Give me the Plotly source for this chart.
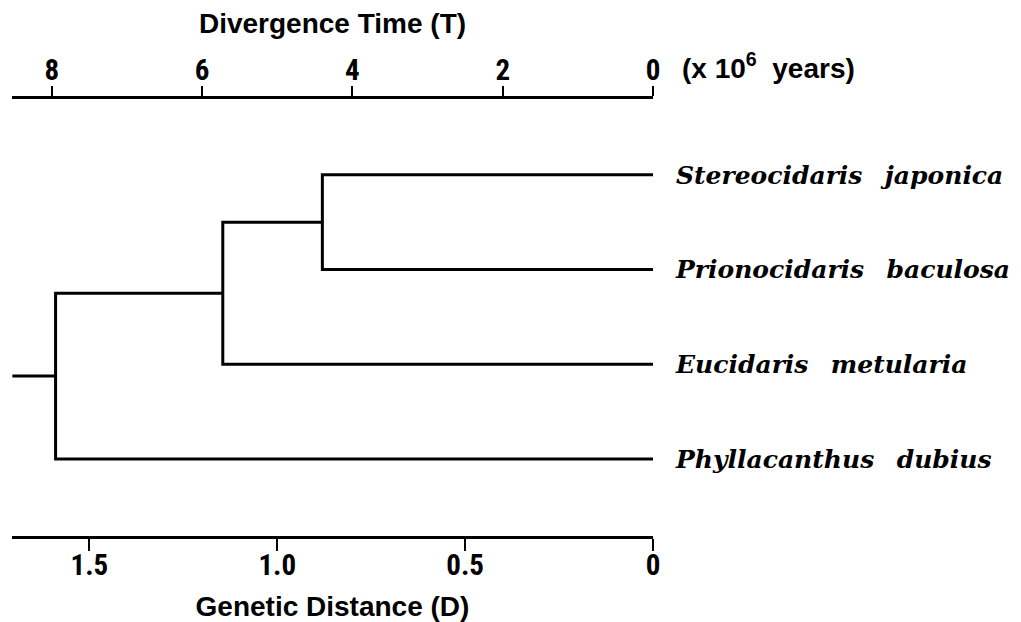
import plotly.graph_objects as go

# ---------------- data ----------------
species = ["Stereocidaris japonica", "Prionocidaris baculosa",
           "Eucidaris metularia", "Phyllacanthus dubius"]
leaf_pos = [4, 3, 2, 1]
# genetic distance (D) of each junction
d_stereo_priono = 0.88
d_plus_eucidaris = 1.145
d_root = 1.59
d_stub = 1.705          # left end of root stub
T_PER_D = 5.0           # divergence time (x 10^6 yr) per unit D

dist_ticks = [1.5, 1.0, 0.5, 0]
dist_labels = ["1.5", "1.0", "0.5", "0"]
time_ticks = [8, 6, 4, 2, 0]
time_labels = ["8", "6", "4", "2", "0"]

# ---------------- tree geometry ----------------
xs, ys = [], []


def join(a, b, h):
    xs.extend([a[0], h, h, b[0], None])
    ys.extend([a[1], a[1], b[1], b[1], None])
    return (h, (a[1] + b[1]) / 2)


leaves = [(0, p) for p in leaf_pos]
n = join(leaves[0], leaves[1], d_stereo_priono)
n = join(n, leaves[2], d_plus_eucidaris)
n = join(n, leaves[3], d_root)
xs.extend([n[0], d_stub, None])
ys.extend([n[1], n[1], None])

x_edge = 1.706

fig = go.Figure()
fig.add_trace(go.Scatter(x=xs, y=ys, mode="lines",
                         line=dict(color="black", width=3),
                         hoverinfo="skip", showlegend=False))
fig.add_trace(go.Scatter(x=[], y=[], xaxis="x2", showlegend=False))

num_font = dict(family="Roboto Condensed, Liberation Sans Narrow, Roboto, sans-serif",
                size=29, color="black", weight="bold")
title_font = dict(family="Liberation Sans, Arial, sans-serif", size=28,
                  color="black", weight="bold")

fig.update_layout(
    width=1021, height=622,
    margin=dict(l=4, r=376, t=91, b=94, pad=0),
    paper_bgcolor="white", plot_bgcolor="white",
    xaxis=dict(range=[x_edge, 0], showgrid=False, zeroline=False,
               showline=True, linewidth=3, linecolor="black",
               ticks="outside", ticklen=12, tickwidth=2, tickcolor="black",
               tickvals=dist_ticks, ticktext=dist_labels, tickfont=num_font,
               ticklabelstandoff=-11,
               title=dict(text="Genetic Distance (D)", font=title_font, standoff=16)),
    xaxis2=dict(range=[x_edge * T_PER_D, 0], overlaying="x", side="top", anchor="y",
                showgrid=False, zeroline=False,
                showline=True, linewidth=3, linecolor="black",
                ticks="outside", ticklen=10, tickwidth=2, tickcolor="black",
                tickvals=time_ticks, ticktext=time_labels, tickfont=num_font,
                ticklabelstandoff=-6,
                title=dict(text="Divergence Time (T)", font=title_font, standoff=22)),
    yaxis=dict(range=[0.187, 4.80], side="right", showgrid=False, zeroline=False,
               showline=False, ticks="", tickvals=leaf_pos,
               ticktext=[s.replace(" ", "\u00a0\u00a0\u2009") for s in species],
               ticklabelstandoff=22,
               tickfont=dict(family="DejaVu Serif, serif", size=25, color="black",
                             weight="bold", style="italic")),
    annotations=[dict(text="(x 10<sup>6</sup>\u00a0 years)", xref="paper", yref="paper",
                      x=1.042, y=1.0755, xanchor="left", yanchor="middle",
                      showarrow=False, font=title_font)],
)

fig.write_html("out.html")
